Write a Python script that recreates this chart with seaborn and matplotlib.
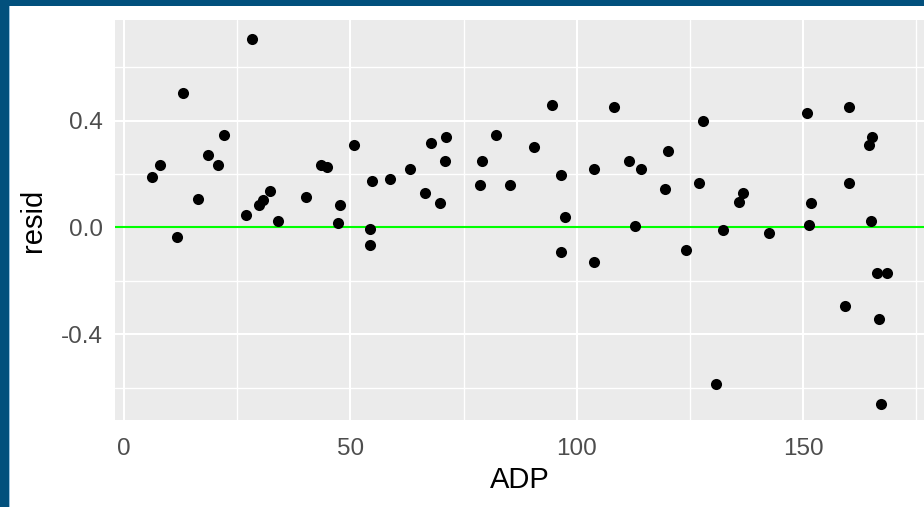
import numpy as np
import pandas as pd
import matplotlib
matplotlib.use("Agg")
import matplotlib.pyplot as plt
import seaborn as sns
from matplotlib.patches import Rectangle
from matplotlib.ticker import MultipleLocator

# Data
adp = [6.1, 7.95, 11.6, 12.97, 16.3, 18.5, 20.7, 22.1, 26.9, 28.3,
       29.9, 30.6, 32.3, 34.1, 40.2, 43.6, 44.8, 47.3, 47.7, 50.8,
       54.8, 54.3, 54.3, 58.8, 63.2, 66.4, 67.7, 69.9, 70.8, 71.2,
       78.7, 79.1, 82.2, 85.3, 90.6, 94.6, 96.5, 97.3, 96.5, 103.9,
       103.9, 108.3, 111.5, 114.1, 112.8, 120.2, 119.4, 124.2, 126.9, 127.8,
       130.8, 132.2, 135.8, 136.7, 142.5, 150.9, 151.7, 151.3, 160.2, 160.2,
       159.2, 165.2, 164.6, 165.1, 166.3, 168.6, 166.8, 167.3]
resid = [0.187, 0.233, -0.037, 0.504, 0.105, 0.271, 0.233, 0.346, 0.046, 0.705,
         0.084, 0.102, 0.135, 0.022, 0.113, 0.235, 0.226, 0.017, 0.084, 0.308,
         0.173, -0.006, -0.067, 0.181, 0.217, 0.128, 0.316, 0.090, 0.247, 0.338,
         0.158, 0.248, 0.346, 0.157, 0.301, 0.458, 0.195, 0.039, -0.091, 0.218,
         -0.129, 0.452, 0.248, 0.218, 0.006, 0.286, 0.142, -0.084, 0.165, 0.398,
         -0.586, -0.009, 0.096, 0.128, -0.023, 0.428, 0.090, 0.007, 0.450, 0.165,
         -0.294, 0.339, 0.307, 0.022, -0.172, -0.172, -0.345, -0.661]
x_ticks = [0, 50, 100, 150]
y_ticks = [-0.4, 0.0, 0.4]
y_tick_labels = ["-0.4", "0.0", "0.4"]

df = pd.DataFrame({"ADP": adp, "resid": resid})

sns.set_theme(style="white")
plt.rcParams["font.family"] = ["Liberation Sans", "DejaVu Sans"]

W, H = 924, 507
fig = plt.figure(figsize=(W / 100, H / 100), dpi=100)
fig.patch.set_facecolor("white")

# panel: left 115, right 924, top 20, bottom 420 (pixels)
ax = fig.add_axes([115 / W, (H - 420) / H, (W - 115) / W, 400 / H])
ax.set_facecolor("#EBEBEB")

ax.set_xlim(-1.99, 176.7)
ax.set_ylim(-0.7217, 0.7764)

ax.xaxis.set_major_locator(MultipleLocator(50))
ax.xaxis.set_minor_locator(MultipleLocator(25))
ax.yaxis.set_major_locator(MultipleLocator(0.4))
ax.yaxis.set_minor_locator(MultipleLocator(0.2))
ax.set_xticks(x_ticks)
ax.set_yticks(y_ticks)
ax.set_yticklabels(y_tick_labels)

ax.grid(which="major", color="white", linewidth=1.5)
ax.grid(which="minor", color="white", linewidth=1.0)
ax.set_axisbelow(True)
for s in ax.spines.values():
    s.set_visible(False)

ax.axhline(0, color="#00FF00", linewidth=1.5, zorder=2)

sns.scatterplot(data=df, x="ADP", y="resid", ax=ax, color="black",
                s=64, linewidth=0, zorder=3)

ax.tick_params(which="major", length=5, width=1.3, color="#333333",
               labelsize=17.5, labelcolor="#4D4D4D", pad=4)
ax.tick_params(which="minor", length=0)
ax.tick_params(axis="x", pad=8)

ax.set_xlabel("ADP", fontsize=21, color="black", labelpad=4)
ax.set_ylabel("resid", fontsize=21, color="black", labelpad=10)

# blue window border (top and left)
fig.patches.append(Rectangle((0, 1 - 6 / H), 1, 6 / H, transform=fig.transFigure,
                             facecolor="#02507D", edgecolor="none", zorder=10))
fig.patches.append(Rectangle((0, 0), 9 / W, 1, transform=fig.transFigure,
                             facecolor="#02507D", edgecolor="none", zorder=10))
fig.patches.append(Rectangle((9 / W, 0), 1 / W, 1 - 6 / H, transform=fig.transFigure,
                             facecolor="#9CC3E0", edgecolor="none", zorder=10))

fig.savefig("out.png", dpi=100)
